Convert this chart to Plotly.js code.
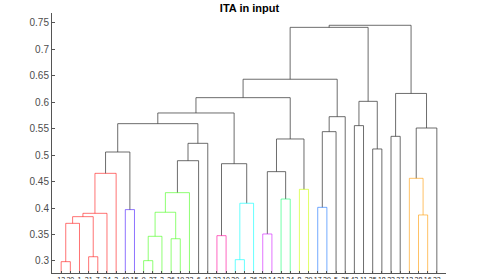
<!DOCTYPE html>
<html>
<head>
<meta charset="utf-8">
<script src="https://cdn.plot.ly/plotly-3.0.1.min.js"></script>
<style>html,body{margin:0;padding:0;background:#fff;}#chart{width:493px;height:279px;}</style>
</head>
<body>
<div id="chart"></div>
<script>
// Leaves are numbered 1..42 in display order; clusters get ids 43.. in merge order.
var leafLabels = ['12','20','1','31','7','24','3','40','15','9','27','2','36','19','33','6','41','22','10','30','4','26','38','14','21','34','8','39','17','29','5','25','42','11','35','18','23','37','13','28','16','32'];
var mergeLeft  = [1, 43, 4, 44, 46, 47, 8, 48, 10, 51, 13, 52, 54, 55, 56, 50, 18, 20, 60, 59, 58, 23, 25, 64, 27, 66, 63, 29, 70, 71, 69, 33, 35, 74, 73, 37, 40, 39, 80, 78, 77];
var mergeRight = [2, 3, 5, 45, 6, 7, 9, 49, 11, 12, 14, 53, 15, 16, 17, 57, 19, 21, 22, 61, 62, 24, 26, 65, 28, 67, 68, 30, 31, 32, 72, 34, 36, 75, 76, 38, 41, 79, 42, 81, 82];
var mergeHeight = [0.2987, 0.3711, 0.308, 0.3837, 0.390, 0.4655, 0.397, 0.5058, 0.3006, 0.3466, 0.342, 0.392, 0.429, 0.4894, 0.5222, 0.5593, 0.3478, 0.3025, 0.409, 0.4837, 0.5795, 0.351, 0.417, 0.4687, 0.4353, 0.5304, 0.6084, 0.4013, 0.5442, 0.5725, 0.6432, 0.5556, 0.5115, 0.6015, 0.7412, 0.5354, 0.3869, 0.4561, 0.5511, 0.6164, 0.7451];
var mergeGroup = ['red','red','red','red','red','red','violet','above','green','green','green','green','green','above','above','above','pink','cyan','cyan','above','above','purple','teal','above','yellow','above','above','blue','above','above','above','above','above','above','above','above','orange','orange','above','above','above'];
var yTicks = [0.3, 0.35, 0.4, 0.45, 0.5, 0.55, 0.6, 0.65, 0.7, 0.75];
var yTickText = ['0.3', '0.35', '0.4', '0.45', '0.5', '0.55', '0.6', '0.65', '0.7', '0.75'];

var groupColors = {
  above: 'rgba(60,60,60,0.75)',
  red: 'rgba(255,0,0,0.55)',
  violet: 'rgba(51,0,255,0.55)',
  green: 'rgba(51,255,0,0.55)',
  pink: 'rgba(255,0,153,0.6)',
  cyan: 'rgba(0,255,255,0.6)',
  purple: 'rgba(204,0,255,0.55)',
  teal: 'rgba(0,255,102,0.55)',
  yellow: 'rgba(204,255,0,0.6)',
  blue: 'rgba(0,102,255,0.55)',
  orange: 'rgba(255,153,0,0.6)'
};

var nLeaves = leafLabels.length;
var nodeX = {}, nodeY = {};
for (var i = 1; i <= nLeaves; i++) { nodeX[i] = i; nodeY[i] = 0; }
var segs = {};
for (var k = 0; k < mergeLeft.length; k++) {
  var id = nLeaves + 1 + k;
  var a = mergeLeft[k], b = mergeRight[k], h = mergeHeight[k];
  nodeX[id] = (nodeX[a] + nodeX[b]) / 2;
  nodeY[id] = h;
  var g = mergeGroup[k];
  if (!segs[g]) segs[g] = {x: [], y: []};
  segs[g].x.push(nodeX[a], nodeX[a], nodeX[b], nodeX[b], null);
  segs[g].y.push(nodeY[a], h, h, nodeY[b], null);
}
var traces = [];
Object.keys(segs).forEach(function (g) {
  traces.push({
    type: 'scatter', mode: 'lines', x: segs[g].x, y: segs[g].y,
    line: {color: groupColors[g], width: 1}, hoverinfo: 'skip', showlegend: false
  });
});

var tickVals = [];
for (var j = 1; j <= nLeaves; j++) tickVals.push(j);

var layout = {
  width: 493, height: 279,
  margin: {l: 52.3, r: 46.5, t: 13, b: 6, pad: 0},
  paper_bgcolor: '#ffffff', plot_bgcolor: '#ffffff',
  font: {family: 'Liberation Sans, Arial, sans-serif', size: 10, color: '#262626'},
  title: {
    text: '<b>ITA in input</b>', x: 249.5 / 493, xanchor: 'center',
    y: 1 - 8 / 279, yanchor: 'middle',
    font: {family: 'Liberation Sans, Arial, sans-serif', size: 11, color: '#000000'}
  },
  showlegend: false,
  xaxis: {
    range: [0, 43], showgrid: false, zeroline: false,
    showline: true, linecolor: '#555555', linewidth: 1,
    tickmode: 'array', tickvals: tickVals, ticktext: leafLabels,
    ticks: 'inside', ticklen: 2, tickcolor: '#555555', tickangle: 0,
    tickfont: {size: 7, color: '#262626'}, fixedrange: true
  },
  yaxis: {
    range: [0.2773, 0.7683], showgrid: false, zeroline: false,
    showline: true, linecolor: '#555555', linewidth: 1,
    tickmode: 'array', tickvals: yTicks, ticktext: yTickText,
    ticks: 'inside', ticklen: 3, tickcolor: '#555555',
    tickfont: {size: 10, color: '#4d4d4d'}, fixedrange: true
  }
};
Plotly.newPlot('chart', traces, layout, {staticPlot: true, displayModeBar: false});
</script>
</body>
</html>
